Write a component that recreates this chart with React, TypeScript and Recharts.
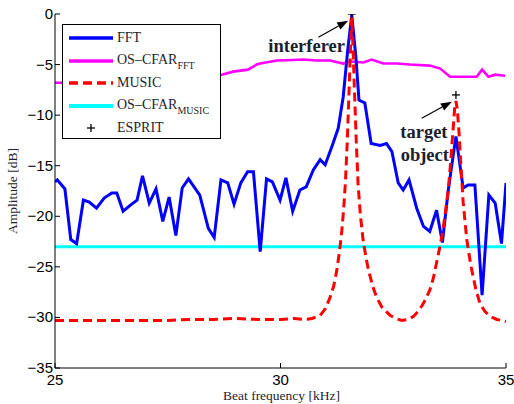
import React from "react";
import {
  ComposedChart,
  Line,
  XAxis,
  YAxis,
  Legend,
  ReferenceLine,
  ReferenceDot,
} from "recharts";

// beat frequency [kHz] / amplitude [dB]
const fftFreq = [
  25.0, 25.05, 25.22, 25.35, 25.48, 25.63, 25.76, 25.92, 26.09, 26.26, 26.37, 26.51, 26.7, 26.82,
  26.94, 27.09, 27.24, 27.39, 27.53, 27.68, 27.82, 27.96, 28.21, 28.4, 28.53, 28.68, 28.83, 28.97,
  29.12, 29.27, 29.4, 29.55, 29.69, 29.82, 29.99, 30.12, 30.27, 30.43, 30.57, 30.73, 30.88, 30.99,
  31.14, 31.28, 31.39, 31.49, 31.58, 31.67, 31.74, 31.87, 32.01, 32.21, 32.35, 32.47, 32.61, 32.72,
  32.85, 33.02, 33.17, 33.31, 33.46, 33.59, 33.72, 33.89, 34.05, 34.16, 34.31, 34.47, 34.62, 34.76,
  34.9, 35.0,
];
const fftAmp = [
  -16.6, -16.4, -17.3, -22.3, -22.7, -18.4, -18.6, -19.2, -18.2, -17.7, -17.7, -19.5, -18.8, -18.4,
  -16.0, -18.7, -17.3, -20.5, -18.1, -21.9, -17.2, -16.3, -17.9, -21.2, -22.1, -16.4, -16.7, -18.8,
  -16.7, -15.6, -15.6, -23.5, -16.3, -16.6, -18.4, -16.2, -19.5, -17.4, -17.1, -15.4, -14.4, -14.9,
  -13.1, -11.3, -8.2, -3.6, -0.1, -4.2, -8.5, -8.8, -12.8, -13.0, -12.8, -13.6, -16.7, -17.4,
  -16.4, -19.2, -21.0, -21.5, -19.4, -22.6, -17.4, -12.1, -17.2, -16.9, -16.9, -27.8, -17.9, -18.7,
  -22.7, -16.7,
];

const cfarFftFreq = [
  25.0, 25.5, 26.0, 26.5, 27.0, 27.5, 28.0, 28.7, 28.95, 29.28, 29.47, 29.55, 29.92, 30.28, 30.51,
  30.8, 31.1, 31.39, 31.54, 31.84, 32.02, 32.28, 32.58, 32.87, 33.31, 33.54, 33.76, 34.35, 34.47,
  34.61, 34.76, 34.98,
];
const cfarFftAmp = [
  -6.8, -6.8, -6.7, -6.6, -6.4, -6.2, -6.1, -6.0, -5.7, -5.5, -5.0, -4.9, -4.6, -4.55, -4.5,
  -4.6, -4.6, -4.9, -4.7, -4.8, -4.5, -4.9, -4.9, -5.0, -5.1, -5.4, -6.2, -6.2, -5.5,
  -6.2, -6.0, -6.1,
];

const musicFreq = [
  25.0, 25.5, 26.0, 26.5, 27.0, 27.5, 28.0, 28.5, 29.0, 29.5, 30.0, 30.3, 30.55, 30.7, 30.88, 31.0,
  31.1, 31.18, 31.25, 31.31, 31.36, 31.4, 31.44, 31.48, 31.52, 31.55, 31.58, 31.61, 31.64, 31.68,
  31.72, 31.77, 31.83, 31.9, 31.95, 32.05, 32.13, 32.25, 32.43, 32.55, 32.69, 32.82, 32.95, 33.05,
  33.13, 33.22, 33.31, 33.39, 33.46, 33.53, 33.6, 33.66, 33.72, 33.77, 33.82, 33.86, 33.89, 33.92,
  33.96, 34.0, 34.05, 34.13, 34.2, 34.24, 34.33, 34.42, 34.53, 34.65, 34.8, 35.0,
];
const musicAmp = [
  -30.3, -30.3, -30.3, -30.3, -30.3, -30.3, -30.2, -30.2, -30.1, -30.2, -30.2, -30.1, -30.2, -30.1,
  -29.8, -29.1, -28.0, -26.9, -25.3, -23.4, -21.4, -19.3, -16.6, -12.6, -7.6, -3.5, -0.3, -3.5,
  -7.6, -12.6, -16.8, -19.8, -22.3, -24.2, -25.3, -27.0, -28.0, -29.0, -29.8, -30.1, -30.3, -30.2,
  -29.9, -29.4, -28.9, -28.2, -27.3, -26.1, -24.6, -23.1, -21.4, -19.5, -17.4, -14.8, -11.8, -9.4,
  -8.6, -9.4, -11.8, -15.0, -18.6, -22.3, -24.3, -25.3, -27.2, -28.6, -29.4, -29.9, -30.2, -30.4,
];

const cfarMusicFreq = [25, 35];
const cfarMusicAmp = [-23, -23];

const espritFreq = [31.58, 33.89];
const espritAmp = [0, -8.0];

const xTicks = [25, 30, 35];
const yTicks = [-35, -30, -25, -20, -15, -10, -5, 0];

const toPoints = (xs: number[], ys: number[]) => xs.map((x, i) => ({ x, y: ys[i] }));

const fftData = toPoints(fftFreq, fftAmp);
const cfarFftData = toPoints(cfarFftFreq, cfarFftAmp);
const musicData = toPoints(musicFreq, musicAmp);
const cfarMusicData = toPoints(cfarMusicFreq, cfarMusicAmp);
const espritData = toPoints(espritFreq, espritAmp);

const SANS = "'Liberation Sans', Arial, Helvetica, sans-serif";
const SERIF = "'Liberation Serif', 'Times New Roman', serif";
const TEXT = "#1e1e2e";

const fmt = (v: number) => String(v).replace("-", "\u2212");

const BottomTick = (p: any) => (
  <g>
    <line x1={p.x} y1={p.y} x2={p.x} y2={p.y - 5} stroke="#000" />
    <text x={p.x} y={p.y + 17} textAnchor="middle" fontSize={15} fontFamily={SANS} fill="#000">
      {fmt(p.payload.value)}
    </text>
  </g>
);
const TopTick = (p: any) => <line x1={p.x} y1={p.y} x2={p.x} y2={p.y + 5} stroke="#000" />;
const LeftTick = (p: any) => (
  <g>
    <line x1={p.x} y1={p.y} x2={p.x + 5} y2={p.y} stroke="#000" />
    <text x={p.x - 2} y={p.y + 5} textAnchor="end" fontSize={15} fontFamily={SANS} fill="#000">
      {fmt(p.payload.value)}
    </text>
  </g>
);
const RightTick = (p: any) => <line x1={p.x} y1={p.y} x2={p.x - 5} y2={p.y} stroke="#000" />;

const PlusDot = (p: any) => {
  const { cx, cy } = p;
  if (cx == null || cy == null) return <g />;
  return (
    <g>
      <line x1={cx - 4} y1={cy} x2={cx + 4} y2={cy} stroke="#000" strokeWidth={1.3} />
      <line x1={cx} y1={cy - 4} x2={cx} y2={cy + 4} stroke="#000" strokeWidth={1.3} />
    </g>
  );
};

const Arrow = (p: any) => {
  const { x1, y1, x2, y2 } = p;
  const a = Math.atan2(y2 - y1, x2 - x1);
  const L = 11;
  const W = 4;
  const bx = x2 - L * Math.cos(a);
  const by = y2 - L * Math.sin(a);
  const nx = -Math.sin(a) * W;
  const ny = Math.cos(a) * W;
  return (
    <g>
      <line x1={x1} y1={y1} x2={bx} y2={by} stroke="#000" strokeWidth={1.2} />
      <polygon points={`${x2},${y2} ${bx + nx},${by + ny} ${bx - nx},${by - ny}`} fill="#000" />
    </g>
  );
};

const Note = (text: string) => (p: any) =>
  (
    <text x={p.cx} y={p.cy} textAnchor="middle" fontSize={18.5} fontWeight="bold" fontFamily={SERIF} fill={TEXT}>
      {text}
    </text>
  );

const legendRows = [
  { label: "FFT", sub: "", color: "#0000ff", dash: "", width: 3.5, plus: false },
  { label: "OS\u2013CFAR", sub: "FFT", color: "#ff00ff", dash: "", width: 3.5, plus: false },
  { label: "MUSIC", sub: "", color: "#ff0000", dash: "9 5", width: 3.5, plus: false },
  { label: "OS\u2013CFAR", sub: "MUSIC", color: "#00ffff", dash: "", width: 4, plus: false },
  { label: "ESPRIT", sub: "", color: "#000", dash: "", width: 0, plus: true },
];

const LegendBox = () => (
  <div
    style={{
      width: 159,
      height: 115,
      border: "1px solid #000",
      background: "#fff",
      position: "relative",
      fontFamily: SERIF,
      fontSize: 14,
      color: TEXT,
      boxSizing: "border-box",
    }}
  >
    {legendRows.map((r, i) => (
      <div
        key={i}
        style={{ position: "absolute", left: 6, top: 13 + i * 22.6 - 9, height: 18, display: "flex", alignItems: "center" }}
      >
        <svg width={44} height={18}>
          {r.plus ? (
            <g>
              <line x1={18} y1={9} x2={26} y2={9} stroke="#000" strokeWidth={1.3} />
              <line x1={22} y1={5} x2={22} y2={13} stroke="#000" strokeWidth={1.3} />
            </g>
          ) : (
            <line x1={0} y1={9} x2={44} y2={9} stroke={r.color} strokeWidth={r.width} strokeDasharray={r.dash || undefined} />
          )}
        </svg>
        <span style={{ marginLeft: 4, whiteSpace: "nowrap", lineHeight: "18px" }}>
          {r.label}
          {r.sub && <span style={{ fontSize: 10, position: "relative", top: 5 }}>{r.sub}</span>}
        </span>
      </div>
    ))}
  </div>
);

export default function App() {
  return (
    <div style={{ position: "absolute", left: 0, top: 0, width: 514, height: 404, background: "#fff" }}>
      <ComposedChart width={514} height={404} margin={{ top: 14, right: 8, left: 0, bottom: 0 }}>
        <XAxis
          xAxisId={0}
          type="number"
          dataKey="x"
          domain={[25, 35]}
          ticks={xTicks}
          allowDataOverflow
          height={36}
          tickSize={0}
          tickMargin={0}
          tickLine={false}
          tick={<BottomTick />}
          axisLine={{ stroke: "#000" }}
          label={(p: any) => {
            const vb = p.viewBox || {};
            return (
              <text x={vb.x + vb.width / 2 + 1} y={vb.y + 32} textAnchor="middle" fontSize={13.5} fontFamily={SERIF} fill={TEXT}>
                Beat frequency [kHz]
              </text>
            );
          }}
        />
        <XAxis
          xAxisId="top"
          orientation="top"
          type="number"
          dataKey="x"
          domain={[25, 35]}
          ticks={xTicks}
          allowDataOverflow
          height={0}
          tickSize={0}
          tickMargin={0}
          tickLine={false}
          tick={<TopTick />}
          axisLine={{ stroke: "#000" }}
        />
        <YAxis
          yAxisId={0}
          type="number"
          dataKey="y"
          domain={[-35, 0]}
          ticks={yTicks}
          allowDataOverflow
          width={55}
          tickSize={0}
          tickMargin={0}
          tickLine={false}
          tick={<LeftTick />}
          axisLine={{ stroke: "#000" }}
          label={(p: any) => {
            const vb = p.viewBox || {};
            const cx = 17;
            const cy = vb.y + vb.height / 2;
            return (
              <text x={cx} y={cy} transform={`rotate(-90 ${cx} ${cy})`} textAnchor="middle" fontSize={13.5} fontFamily={SERIF} fill={TEXT}>
                Amplitude [dB]
              </text>
            );
          }}
        />
        <YAxis
          yAxisId="right"
          orientation="right"
          type="number"
          domain={[-35, 0]}
          ticks={yTicks}
          allowDataOverflow
          width={0}
          tickSize={0}
          tickMargin={0}
          tickLine={false}
          tick={<RightTick />}
          axisLine={{ stroke: "#000" }}
        />

        <Line data={cfarMusicData} dataKey="y" name="OS-CFAR MUSIC" stroke="#00ffff" strokeWidth={3} dot={false} isAnimationActive={false} />
        <Line data={cfarFftData} dataKey="y" name="OS-CFAR FFT" stroke="#ff00ff" strokeWidth={2.6} dot={false} isAnimationActive={false} />
        <Line data={fftData} dataKey="y" name="FFT" stroke="#0000ff" strokeWidth={3} dot={false} isAnimationActive={false} />
        <Line
          data={musicData}
          dataKey="y"
          name="MUSIC"
          stroke="#ff0000"
          strokeWidth={3}
          strokeDasharray="9 5"
          dot={false}
          isAnimationActive={false}
        />
        <Line data={espritData} dataKey="y" name="ESPRIT" stroke="none" dot={<PlusDot />} activeDot={false} isAnimationActive={false} />

        <ReferenceLine segment={[{ x: 30.84, y: -2.3 }, { x: 31.5, y: -0.66 }]} shape={<Arrow />} ifOverflow="visible" />
        <ReferenceLine segment={[{ x: 33.13, y: -10.31 }, { x: 33.8, y: -8.67 }]} shape={<Arrow />} ifOverflow="visible" />
        <ReferenceDot x={30.58} y={-3.8} r={0} shape={Note("interferer")} ifOverflow="visible" />
        <ReferenceDot x={33.18} y={-12.3} r={0} shape={Note("target")} ifOverflow="visible" />
        <ReferenceDot x={33.2} y={-14.5} r={0} shape={Note("object")} ifOverflow="visible" />

        <Legend
          layout="vertical"
          align="center"
          verticalAlign="middle"
          content={<LegendBox />}
          wrapperStyle={{ left: 62, top: 24, width: 159, height: 115, right: "auto", bottom: "auto" }}
        />
      </ComposedChart>
    </div>
  );
}
